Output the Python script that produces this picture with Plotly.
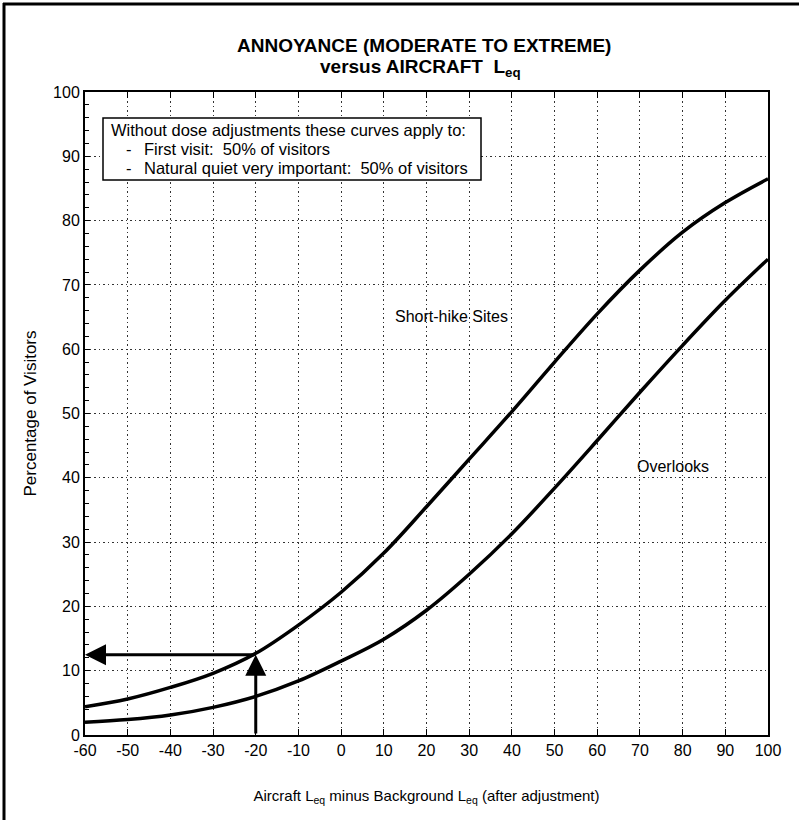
import plotly.graph_objects as go

# ---- data ----
x_vals = [-60, -50, -40, -30, -20, -10, 0, 10, 20, 30, 40, 50, 60, 70, 80, 90, 100]
short_hike = [4.4, 5.6, 7.4, 9.6, 12.7, 17.1, 22.2, 28.3, 35.5, 42.9, 50.3, 58.0, 65.5, 72.3, 78.2, 82.8, 86.5]
overlooks = [2.0, 2.4, 3.1, 4.3, 6.0, 8.4, 11.5, 14.9, 19.4, 25.0, 31.3, 38.4, 45.8, 53.3, 60.6, 67.6, 74.0]
x_ticks = list(range(-60, 101, 10))
y_ticks = list(range(0, 101, 10))
lookup_x = -20
lookup_y = 12.5

W, H = 799, 820
ML, MR, MT, MB = 85, 31, 92, 85
PW, PH = W - ML - MR, H - MT - MB

FONT = "Liberation Sans, Arial, sans-serif"

def px(xp):
    return (xp - ML) / PW

def py(yp):
    return 1 - (yp - MT) / PH

fig = go.Figure()
fig.add_trace(go.Scatter(x=x_vals, y=short_hike, mode="lines", name="Short-hike Sites",
                         line=dict(color="black", width=3.5, shape="spline", smoothing=1.0),
                         showlegend=False, hoverinfo="skip"))
fig.add_trace(go.Scatter(x=x_vals, y=overlooks, mode="lines", name="Overlooks",
                         line=dict(color="black", width=3.5, shape="spline", smoothing=1.0),
                         showlegend=False, hoverinfo="skip"))

def label(text, xp, yp, size, anchor="center"):
    return dict(text=text, x=px(xp), y=py(yp), xref="paper", yref="paper", showarrow=False,
                font=dict(family=FONT, size=size, color="black"), xanchor=anchor, yanchor="middle")

annotations = [
    label("<b>ANNOYANCE (MODERATE TO EXTREME)</b>", 424, 46, 19),
    label("<b>versus AIRCRAFT  L<sub>eq</sub></b>", 420, 68, 19),
    label("Short-hike Sites", 451, 316, 16),
    label("Overlooks", 673, 466, 16),
    label("Without dose adjustments these curves apply to:", 109, 130, 16.5, anchor="left"),
    label("-", 124, 149, 16.5, anchor="left"),
    label("First visit:  50% of visitors", 142, 149, 16.5, anchor="left"),
    label("-", 124, 168, 16.5, anchor="left"),
    label("Natural quiet very important:  50% of visitors", 142, 168, 16.5, anchor="left"),
    # lookup arrows
    dict(x=x_vals[0], y=lookup_y, ax=lookup_x, ay=lookup_y, xref="x", yref="y", axref="x", ayref="y",
         showarrow=True, arrowhead=2, arrowsize=1.4, arrowwidth=3, arrowcolor="black", text=""),
    dict(x=lookup_x, y=lookup_y, ax=lookup_x, ay=0, xref="x", yref="y", axref="x", ayref="y",
         showarrow=True, arrowhead=2, arrowsize=1.4, arrowwidth=3, arrowcolor="black", text=""),
]

shapes = [
    # legend box
    dict(type="rect", xref="paper", yref="paper", x0=px(103), x1=px(481), y0=py(180), y1=py(118),
         line=dict(color="black", width=1.5), fillcolor="white", layer="above"),
    # outer page frame (top and left edges)
    dict(type="line", xref="paper", yref="paper", x0=px(3), x1=px(W + 5), y0=py(4), y1=py(4),
         line=dict(color="black", width=3)),
    dict(type="line", xref="paper", yref="paper", x0=px(4), x1=px(4), y0=py(H + 5), y1=py(3),
         line=dict(color="black", width=3)),
]

grid_dash = "1.5px,3px"

fig.update_layout(
    width=W, height=H,
    margin=dict(l=ML, r=MR, t=MT, b=MB),
    paper_bgcolor="white", plot_bgcolor="white",
    font=dict(family=FONT, color="black"),
    annotations=annotations, shapes=shapes,
    xaxis=dict(range=[-60, 100], tickvals=x_ticks, ticktext=[str(v) for v in x_ticks],
               showgrid=True, gridcolor="#333", griddash=grid_dash, gridwidth=1,
               showline=True, linecolor="black", linewidth=2, mirror="ticks",
               ticks="inside", ticklen=6, tickcolor="black", tickwidth=1,
               tickfont=dict(family=FONT, size=16), zeroline=False,
               title=dict(text="Aircraft L<sub>eq</sub> minus Background L<sub>eq</sub> (after adjustment)",
                          font=dict(family=FONT, size=15), standoff=32)),
    yaxis=dict(range=[0, 100], tickvals=y_ticks, ticktext=[str(v) for v in y_ticks],
               showgrid=True, gridcolor="#333", griddash=grid_dash, gridwidth=1,
               showline=True, linecolor="black", linewidth=2, mirror=True,
               ticks="inside", ticklen=5, tickcolor="black", tickwidth=1,
               minor=dict(dtick=2, ticks="inside", ticklen=4, tickcolor="black", showgrid=False),
               tickfont=dict(family=FONT, size=16), zeroline=False,
               title=dict(text="Percentage of Visitors", font=dict(family=FONT, size=17), standoff=12)),
)

fig.write_html("out.html", config={"displayModeBar": False},
               post_script="document.body.style.margin='0';")
